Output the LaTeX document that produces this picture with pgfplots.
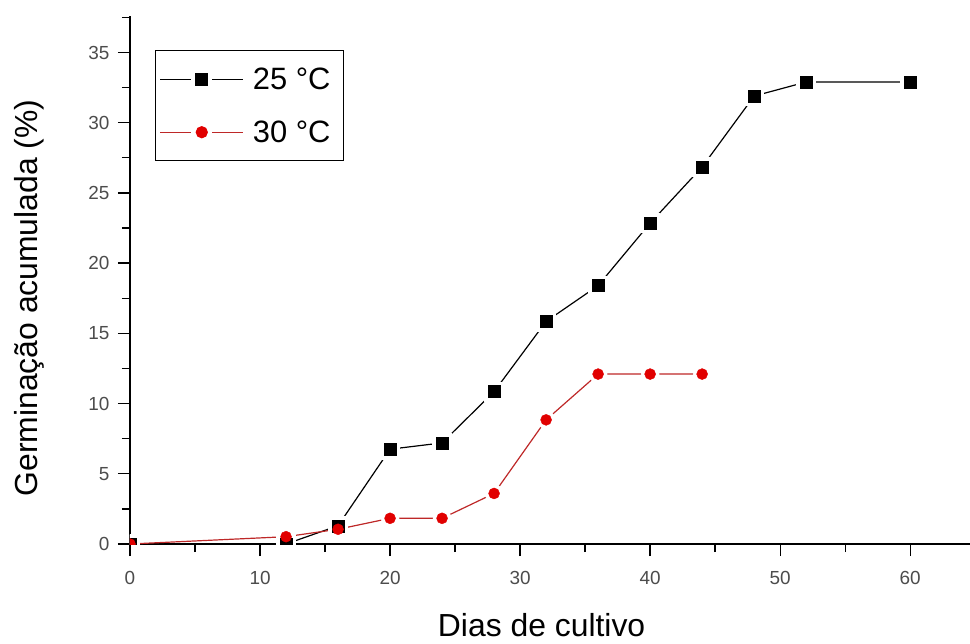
\documentclass[border=0pt]{standalone}
\usepackage{fontspec}
\setmainfont{Liberation Sans}
\usepackage{pgfplots}
\usepackage{pgfplotstable}
\pgfplotsset{compat=1.18}
\usetikzlibrary{calc}

\definecolor{mkred}{RGB}{225,0,0}
\definecolor{lnred}{RGB}{190,40,40}

\pgfplotstableread{
x y
0 0
12 0
16 1.3
20 6.75
24 7.2
28 10.85
32 15.85
36 18.4
40 22.85
44 26.85
48 31.9
52 32.9
60 32.9
}\dataA

\pgfplotstableread{
x y
0 0
12 0.52
16 1.05
20 1.83
24 1.83
28 3.6
32 8.84
36 12.1
40 12.1
44 12.1
}\dataB

\begin{document}
\begin{tikzpicture}
\begin{axis}[
  name=ax,
  scale only axis,
  width=840bp, height=528bp,
  xmin=0, xmax=64.6, ymin=0, ymax=37.6,
  axis lines=left,
  axis line style={-, line width=1.3bp, black},
  xtick={0,10,...,60}, minor xtick={5,15,...,55},
  ytick={0,5,...,35}, minor ytick={2.5,7.5,...,37.5},
  tick align=outside,
  major tick length=12bp, minor tick length=8bp,
  every tick/.style={line width=1.3bp, black},
  every minor tick/.style={line width=1.3bp, black},
  /pgf/number format/assume math mode=true,
  every tick label/.append style={font=\fontsize{19}{19}\selectfont, text=black!70},
  xticklabel style={yshift=-12bp},
  yticklabel style={xshift=-5bp},
  clip mode=global,
  clip marker paths=true,
  xlabel={Dias de cultivo},
  ylabel={Germinação acumulada (\%)},
  label style={font=\fontsize{32}{32}\selectfont},
  xlabel style={at={(axis description cs:0.49,-0.1761)}, anchor=base},
  ylabel style={at={(axis description cs:-0.1107,0.466)}, anchor=base, rotate=0},
  legend style={at={(axis description cs:0.0298,0.9356)}, anchor=north west,
    draw=black, line width=1.3bp, font=\fontsize{31}{31}\selectfont,
    inner xsep=4bp, inner ysep=15bp, row sep=26bp,
    nodes={inner xsep=9bp}},
  legend cell align=left,
  legend image code/.code={
    \draw (0bp,0bp) -- (31bp,0bp);
    \draw (52bp,0bp) -- (83bp,0bp);
    \draw[only marks, mark repeat=2, mark phase=2] plot coordinates {(0bp,0bp) (41.5bp,0bp) (83bp,0bp)};
  },
]
\addlegendimage{black, line width=1.2bp, mark=square*, mark size=6bp, mark options={solid}}
\addlegendentry{25 °C}
\addlegendimage{lnred, line width=1.2bp, mark=*, mark size=5.5bp, mark options={mkred, solid}}
\addlegendentry{30 °C}

\addplot[black, line width=1.2bp, mark=none, forget plot] table {\dataA};
\addplot[lnred, line width=1.2bp, mark=none, forget plot] table {\dataB};
\addplot[only marks, mark=square*, mark size=9.5bp, white, forget plot] table {\dataA};
\addplot[only marks, mark=*, mark size=9bp, white, forget plot] table {\dataB};
\addplot[only marks, mark=square*, mark size=6bp, black, forget plot] table {\dataA};
\addplot[only marks, mark=*, mark size=5.5bp, mkred, forget plot] table {\dataB};
\end{axis}
\pgfresetboundingbox
\path ($(ax.south west)+(-130bp,-100bp)$) rectangle ($(ax.north east)+(0bp,16bp)$);
\end{tikzpicture}
\end{document}
